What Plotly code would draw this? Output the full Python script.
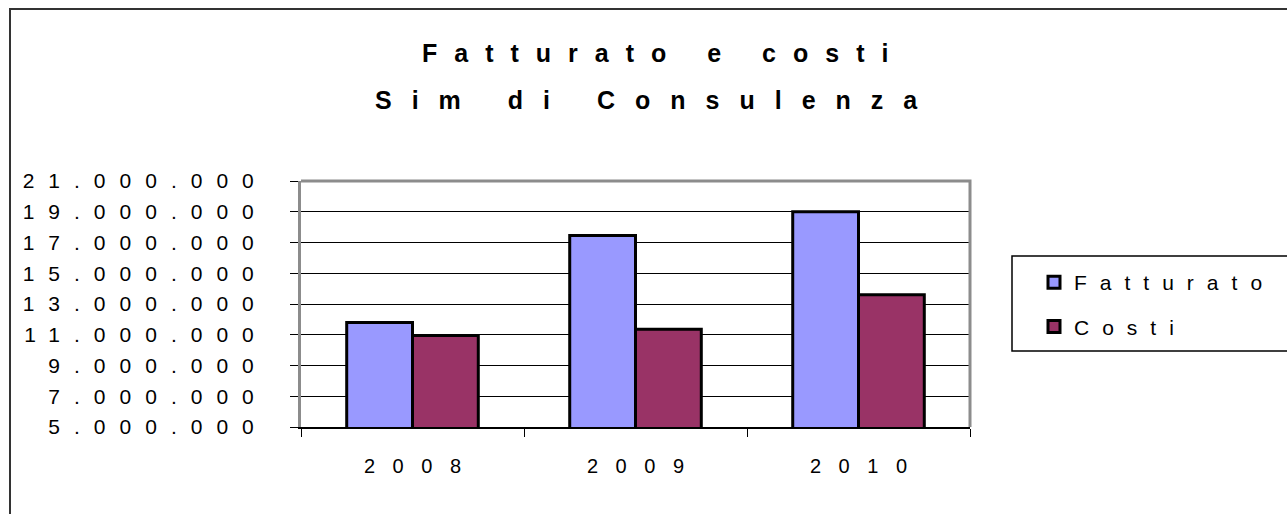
import plotly.graph_objects as go

# ---- data ----
years = ["2008", "2009", "2010"]
fatturato = [11_800_000, 17_450_000, 19_000_000]
costi = [10_950_000, 11_350_000, 13_600_000]
series_names = ["Fatturato", "Costi"]
title_lines = ["Fatturato e costi", "Sim di Consulenza"]
y_ticks = [5_000_000, 7_000_000, 9_000_000, 11_000_000, 13_000_000,
           15_000_000, 17_000_000, 19_000_000, 21_000_000]

FONT = "Liberation Sans, Arial, sans-serif"


def spaced(s, px):
    return f'<span style="letter-spacing:{px}px">{s[:-1]}</span>{s[-1]}'


def fmt(v):
    return f"{v:,}".replace(",", ".")


W, H = 1287, 514
L, R, T, B = 301, 970, 181, 427


def px_x(x):
    return (x - L) / (R - L)


def px_y(y):
    return (B - y) / (B - T)


fig = go.Figure()
fig.add_trace(go.Bar(
    x=years, y=fatturato, name=spaced(series_names[0], 13),
    marker=dict(color="#9999FF", line=dict(color="black", width=3)),
    legendgroup="a",
))
fig.add_trace(go.Bar(
    x=years, y=costi, name=spaced(series_names[1], 13),
    marker=dict(color="#993366", line=dict(color="black", width=3)),
    legendgroup="b",
))

shapes = [
    # outer chart frame
    dict(type="rect", xref="paper", yref="paper",
         x0=px_x(10), x1=px_x(1300), y0=px_y(530), y1=px_y(9),
         line=dict(color="#333333", width=2), fillcolor="rgba(0,0,0,0)"),
    # plot area top + right border
    dict(type="path", xref="paper", yref="paper",
         path="M 0 1 L 1 1 L 1 0",
         line=dict(color="#8c8c8c", width=3)),
    # legend box
    dict(type="rect", xref="paper", yref="paper",
         x0=px_x(1012), x1=px_x(1300), y0=px_y(351), y1=px_y(256),
         line=dict(color="black", width=1.5), fillcolor="rgba(0,0,0,0)"),
]

annotations = [
    dict(text="<b>" + spaced(title_lines[0], 17) + "</b>", xref="paper", yref="paper",
         x=px_x(655), y=px_y(53), showarrow=False, xanchor="center", yanchor="middle",
         font=dict(family=FONT, size=25, color="black")),
    dict(text="<b>" + spaced(title_lines[1], 20) + "</b>", xref="paper", yref="paper",
         x=px_x(646), y=px_y(100), showarrow=False, xanchor="center", yanchor="middle",
         font=dict(family=FONT, size=25, color="black")),
]

fig.update_layout(
    width=W, height=H,
    margin=dict(l=L, r=W - R, t=T, b=H - B, autoexpand=False),
    paper_bgcolor="white", plot_bgcolor="white",
    barmode="group", bargap=0.41, bargroupgap=0,
    font=dict(family=FONT, color="black"),
    shapes=shapes, annotations=annotations,
    showlegend=True,
    legend=dict(
        x=px_x(1034), y=px_y(262), xanchor="left", yanchor="top",
        font=dict(family=FONT, size=21, color="black"),
        bgcolor="rgba(0,0,0,0)", borderwidth=0,
        tracegroupgap=14, traceorder="grouped",
    ),
)

fig.update_xaxes(
    type="category", tickson="boundaries",
    tickvals=years, ticktext=[spaced(y, 17.5) for y in years],
    ticks="outside", ticklen=8, tickcolor="black", tickwidth=1,
    showline=True, linecolor="black", linewidth=2,
    showgrid=False, tickfont=dict(family=FONT, size=20, color="black"),
    ticklabelstandoff=20,
)
fig.update_yaxes(
    range=[5_000_000, 21_000_000],
    tickvals=y_ticks, ticktext=[spaced(fmt(v), 14) for v in y_ticks],
    ticks="outside", ticklen=8, tickcolor="black", tickwidth=1,
    showline=True, linecolor="#8c8c8c", linewidth=3,
    showgrid=True, gridcolor="black", gridwidth=1,
    zeroline=False, tickfont=dict(family=FONT, size=21, color="black"),
    ticklabelstandoff=32,
)

fig.write_html("out.html", config={"displayModeBar": False},
               post_script="document.body.style.margin='0';")
